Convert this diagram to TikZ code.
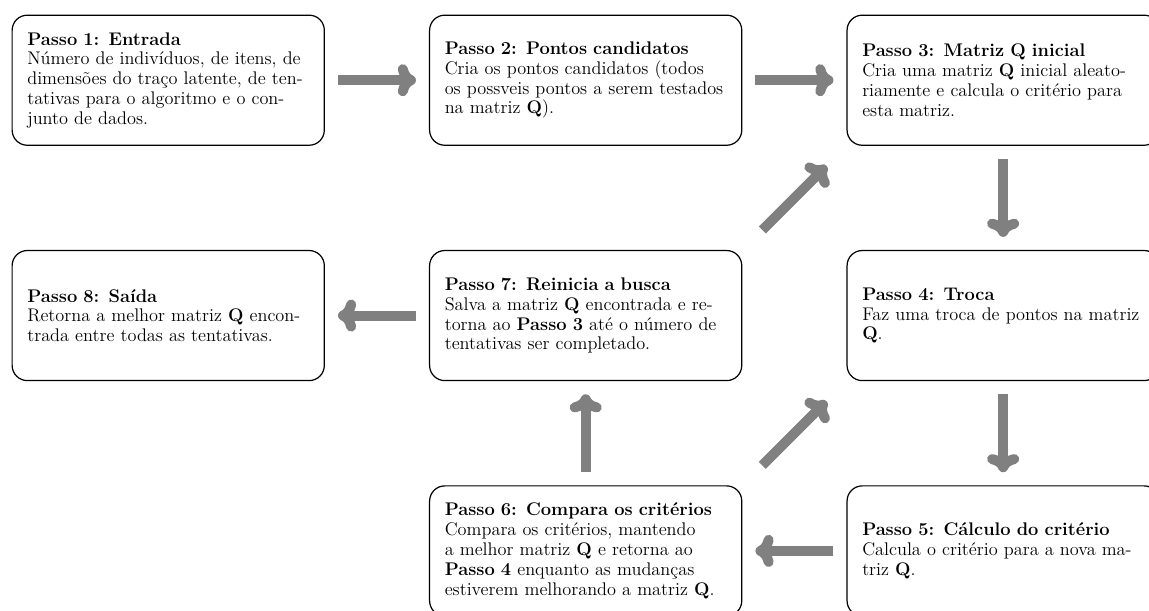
\documentclass[tikz,border=0pt]{standalone}
\usetikzlibrary{arrows.meta,positioning}
\hyphenation{ten-ta-ti-vas con-jun-to aleato-riamente re-tor-na en-con-tra-da ma-triz estiverem testados}
\tikzset{flow/.style={draw=gray, line width=0.23cm, shorten <=0.3cm, shorten >=0.3cm,
    -{Computer Modern Rightarrow[round, length=4.2mm, width=7.4mm]}},
  stepbox/.style={draw, thick, rounded corners=0.35cm, text width=6.5cm, inner xsep=0.35cm,
    minimum height=3cm, align=left, font=\fontsize{12}{13}\selectfont}}

\begin{document}
\begin{tikzpicture}
  \useasboundingbox (0,0) rectangle (26.5,-14.07);
  % top row
  \node[stepbox] (s1) at (3.88,-1.85) {\textbf{Passo 1: Entrada}\\
    Número de indivíduos, de itens, de dimensões do traço latente, de tentativas para o algoritmo e o conjunto de dados.};
  \node[stepbox, right=2.4cm of s1] (s2) {\textbf{Passo 2: Pontos candidatos}\\
    Cria os pontos candidatos (todos\\ os possveis pontos a serem testados na matriz \textbf{Q}).};
  \node[stepbox, right=2.4cm of s2] (s3) {\textbf{Passo 3: Matriz Q inicial}\\
    Cria uma matriz \textbf{Q} inicial aleatoriamente e calcula o critério para esta matriz.};
  % right column and loop
  \node[stepbox, below=2.4cm of s3] (s4) {\textbf{Passo 4: Troca}\\
    Faz uma troca de pontos na matriz \textbf{Q}.};
  \node[stepbox, below=2.4cm of s4] (s5) {\textbf{Passo 5: Cálculo do critério}\\
    Calcula o critério para a nova matriz \textbf{Q}.};
  \node[stepbox, left=2.4cm of s5] (s6) {\textbf{Passo 6: Compara os critérios}\\
    Compara os critérios, mantendo a melhor matriz \textbf{Q} e retorna ao \textbf{Passo 4} enquanto as mudanças estiverem melhorando a matriz \textbf{Q}.};
  \node[stepbox, above=2.4cm of s6] (s7) {\textbf{Passo 7: Reinicia a busca}\\
    Salva a matriz \textbf{Q} encontrada e retorna ao \textbf{Passo 3} até o número de tentativas ser completado.};
  \node[stepbox, left=2.4cm of s7] (s8) {\textbf{Passo 8: Saída}\\
    Retorna a melhor matriz \textbf{Q} encontrada entre todas as tentativas.};
  % arrows
  \draw[flow] (s1.east) -- (s2.west);
  \draw[flow] (s2.east) -- (s3.west);
  \draw[flow] (s3.south) -- (s4.north);
  \draw[flow] (s4.south) -- (s5.north);
  \draw[flow] (s5.west) -- (s6.east);
  \draw[flow] (s6.north) -- (s7.south);
  \draw[flow] (s7.west) -- (s8.east);
  \draw[flow, shorten <=0.65cm, shorten >=0.65cm] (s6.north east) -- (s4.south west);
  \draw[flow, shorten <=0.65cm, shorten >=0.65cm] (s7.north east) -- (s3.south west);
\end{tikzpicture}
\end{document}
